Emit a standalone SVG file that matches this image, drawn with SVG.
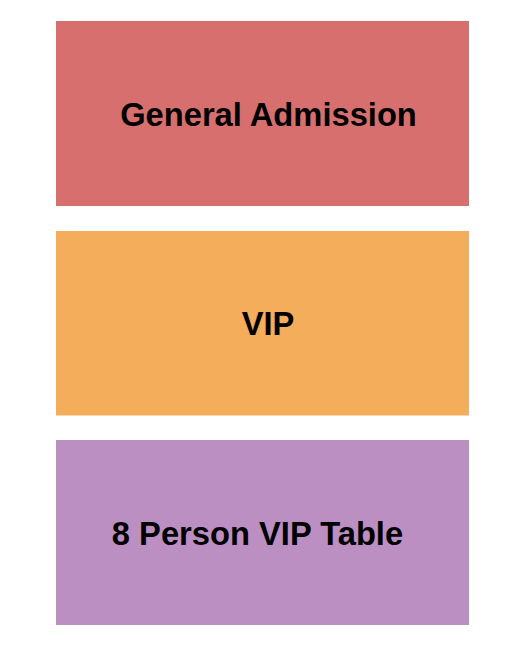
<svg xmlns="http://www.w3.org/2000/svg" width="525" height="650" viewBox="0 0 525 650">
<style>
.lbl{font-family:"Liberation Sans",Arial,sans-serif;font-weight:bold;font-size:32.7px;fill:#000;text-anchor:middle}
</style>
<rect width="525" height="650" fill="#fff"/>
<g id="general-admission">
<rect x="56" y="21" width="413" height="185" fill="#D76F6E"/>
<text class="lbl" x="268.5" y="126">General Admission</text>
</g>
<g id="vip">
<rect x="56" y="231" width="413" height="184.5" fill="#F3AD5B"/>
<text class="lbl" x="268" y="335">VIP</text>
</g>
<g id="vip-table">
<rect x="56" y="440" width="413" height="185" fill="#BC8FC3"/>
<text class="lbl" x="257.5" y="545">8 Person VIP Table</text>
</g>
<g id="connectors"/>
</svg>
